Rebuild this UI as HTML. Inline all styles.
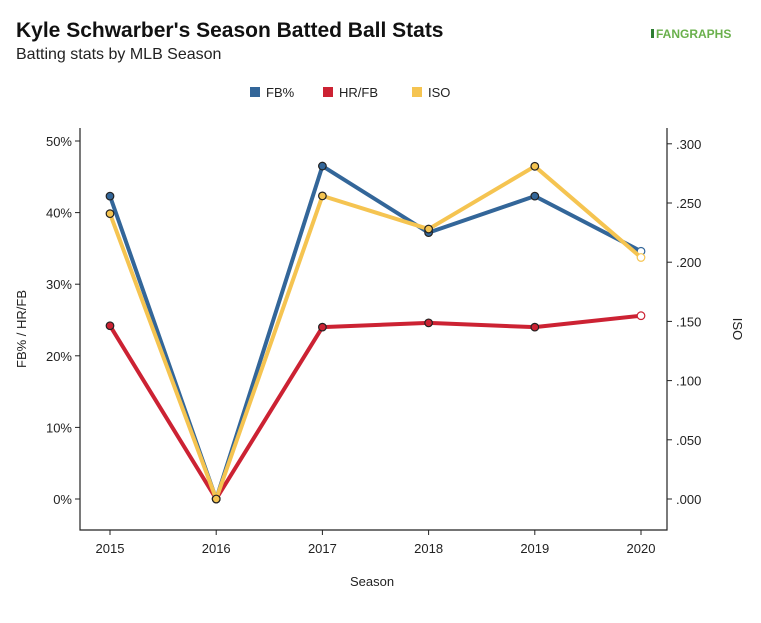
<!DOCTYPE html>
<html><head><meta charset="utf-8"><style>
body{margin:0;background:#fff;font-family:"Liberation Sans",sans-serif}
svg text{font-family:"Liberation Sans",sans-serif}
</style></head><body>
<svg id="c" width="761" height="618">
<text x="16" y="37" font-size="21" font-weight="bold" fill="#111">Kyle Schwarber's Season Batted Ball Stats</text>
<text x="16" y="59" font-size="16" fill="#222">Batting stats by MLB Season</text>
<g><rect x="651" y="29" width="3" height="9" fill="#2e7d32"/><text x="656" y="38" font-size="12" font-weight="bold" fill="#6ab04c">FANGRAPHS</text></g>
<g id="legend"></g>
<g id="plot"></g>
</svg>
<script>
const seasons=[2015,2016,2017,2018,2019,2020];
const fbPct=[42.3,0,46.5,37.2,42.3,34.6];
const hrFb=[24.2,0,24.0,24.6,24.0,25.6];
const iso=[.241,0,.256,.228,.281,.204];
const leftTicks=[0,10,20,30,40,50];
const rightTicks=[0,.05,.1,.15,.2,.25,.3];
const NS='http://www.w3.org/2000/svg';
const svg=document.getElementById('c'),plot=document.getElementById('plot'),leg=document.getElementById('legend');
function mk(t,a,p){const e=document.createElementNS(NS,t);for(const k in a)e.setAttribute(k,a[k]);(p||plot).appendChild(e);return e;}
const x=i=>110+i*106.2;
const yL=v=>499-v*7.16;
const yR=v=>499-v*1184;
// axes
let ax=mk('path',{d:'M80,128V530H667V128',fill:'none',stroke:'#222','stroke-width':1.2});

leftTicks.forEach(v=>{mk('line',{x1:75,x2:80,y1:yL(v),y2:yL(v),stroke:'#222'});
 const t=mk('text',{x:72,y:yL(v)+5,'text-anchor':'end','font-size':13,fill:'#222'});t.textContent=v+'%';
 });
rightTicks.forEach(v=>{mk('line',{x1:667,x2:672,y1:yR(v),y2:yR(v),stroke:'#222'});
 const t=mk('text',{x:676,y:yR(v)+5,'font-size':13,fill:'#222'});t.textContent=v.toFixed(3).replace(/^0/,'');
 });
seasons.forEach((s,i)=>{mk('line',{x1:x(i),x2:x(i),y1:530,y2:535,stroke:'#222'});
 const t=mk('text',{x:x(i),y:553,'text-anchor':'middle','font-size':13,fill:'#222'});t.textContent=s;
 });
let t=mk('text',{x:372,y:586,'text-anchor':'middle','font-size':13,fill:'#222'});t.textContent='Season';

t=mk('text',{x:0,y:0,transform:'translate(26,329) rotate(-90)','text-anchor':'middle','font-size':13,fill:'#222'});t.textContent='FB% / HR/FB';

t=mk('text',{x:0,y:0,transform:'translate(733,329) rotate(90)','text-anchor':'middle','font-size':13,fill:'#222'});t.textContent='ISO';

const series=[{n:'fb',d:fbPct,y:yL,c:'#336699',l:'FB%'},{n:'hrfb',d:hrFb,y:yL,c:'#cc2233',l:'HR/FB'},{n:'iso',d:iso,y:yR,c:'#f5c451',l:'ISO'}];
series.forEach((s,k)=>{
 const p=mk('polyline',{points:s.d.map((v,i)=>x(i)+','+s.y(v)).join(' '),fill:'none',stroke:s.c,'stroke-width':4,'stroke-linejoin':'round'});
 
 s.d.forEach((v,i)=>{const last=i===s.d.length-1;
  const c=mk('circle',{cx:x(i),cy:s.y(v),r:3.8,fill:last?'#fff':s.c,stroke:last?s.c:'#222','stroke-width':1.2});
  });
 const lx=[250,323,412][k];
 const r=mk('rect',{x:lx,y:87,width:10,height:10,fill:s.c},leg);
 
 const lt=mk('text',{x:lx+16,y:97,'font-size':13,fill:'#222'},leg);lt.textContent=s.l;
 
});
</script>
</body></html>
